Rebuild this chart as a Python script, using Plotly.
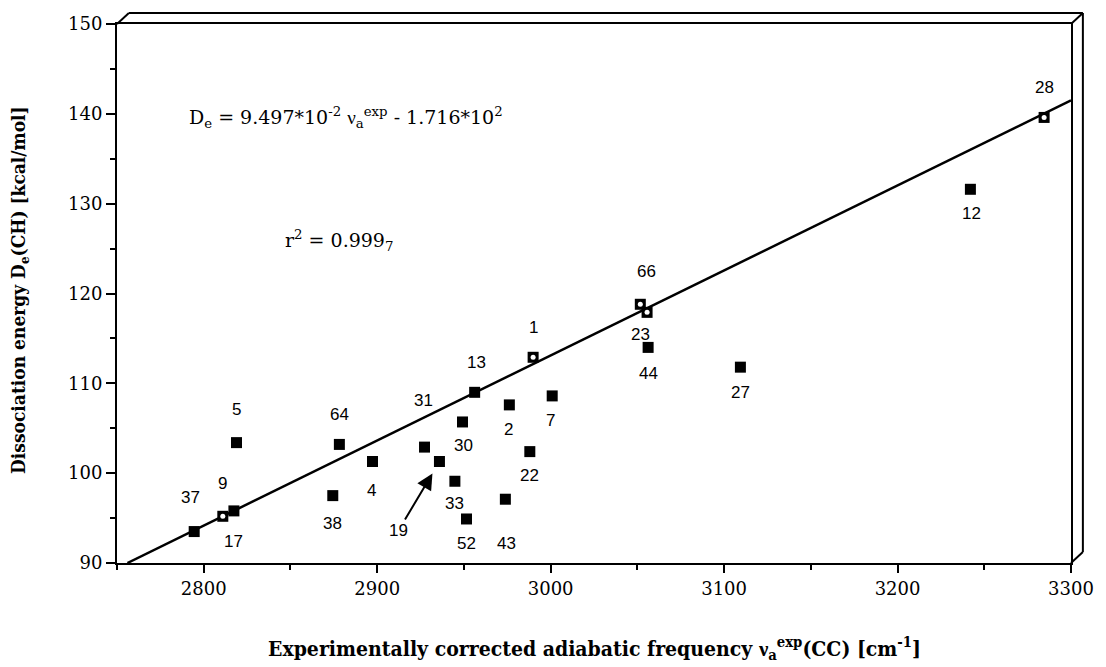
import plotly.graph_objects as go

# ---------------- data ----------------
labels = ["37", "9", "17", "5", "64", "38", "4", "31", "19", "30", "33", "52",
          "13", "2", "1", "7", "22", "43", "66", "23", "44", "27", "12", "28"]
freq = [2794.5, 2811.0, 2817.4, 2818.9, 2878.2, 2874.4, 2897.3, 2927.3, 2935.9,
        2949.2, 2944.8, 2951.5, 2956.2, 2976.2, 2989.9, 3000.9, 2988.0, 2973.9,
        3051.7, 3055.6, 3056.2, 3109.4, 3242.0, 3284.5]
energy = [93.5, 95.2, 95.8, 103.4, 103.2, 97.5, 101.3, 102.9, 101.3, 105.7,
          99.1, 94.9, 109.0, 107.6, 112.9, 108.6, 102.4, 97.1, 118.8, 117.9,
          114.0, 111.8, 131.6, 139.6]
open_labels = ["9", "1", "66", "23", "28"]

fit_x = [2756, 3300]
fit_y = [90.0, 141.5]

x_ticks = [2800, 2900, 3000, 3100, 3200, 3300]
y_ticks = [90, 100, 110, 120, 130, 140, 150]

# ---------------- style / layout ----------------
W, H = 1106, 667
ML, MR, MT, MB = 117, 25, 24, 104
PW, PH = W - ML - MR, H - MT - MB

# label offsets in px (dx right, dy down)
label_offsets = {
    "37": (-4, -34), "9": (0, -33), "17": (0, 31), "5": (0, -33), "64": (0, -30),
    "38": (0, 28), "4": (-1, 29), "31": (-1, -47), "30": (1, 24), "33": (0, 22),
    "52": (0, 25), "13": (2, -30), "2": (-1, 25), "1": (0, -30), "7": (-2, 25),
    "22": (0, 24), "43": (1, 44), "66": (6, -33), "23": (-7, 22), "44": (0, 26),
    "27": (0, 25), "12": (1, 24), "28": (0, -30),
}

SERIF = "DejaVu Serif"
SERIF_C = "DejaVu Serif Condensed, DejaVu Serif"
SANS = "Liberation Sans, Arial, sans-serif"
NU = '<span style="font-family:Liberation Serif">ν</span>'

fig = go.Figure()

fig.add_trace(go.Scatter(x=fit_x, y=fit_y, mode="lines",
                         line=dict(color="black", width=2.5),
                         hoverinfo="skip", showlegend=False))

fig.add_trace(go.Scatter(x=freq, y=energy, mode="markers",
                         marker=dict(symbol="square", size=11, color="black",
                                     line=dict(width=0)),
                         showlegend=False))

ox = [f for f, l in zip(freq, labels) if l in open_labels]
oy = [e for e, l in zip(energy, labels) if l in open_labels]
fig.add_trace(go.Scatter(x=ox, y=oy, mode="markers",
                         marker=dict(symbol="circle", size=5, color="white",
                                     line=dict(width=0)),
                         showlegend=False))

annotations = []
for f, e, l in zip(freq, energy, labels):
    if l == "19":
        annotations.append(dict(
            x=f, y=e, xref="x", yref="y", text=l, showarrow=True,
            arrowhead=2, arrowsize=1.6, arrowwidth=2, arrowcolor="black",
            xshift=-7, yshift=-12, ax=-34, ay=57, standoff=0,
            font=dict(family=SANS, size=17, color="black")))
        continue
    dx, dy = label_offsets[l]
    annotations.append(dict(
        x=f, y=e, xref="x", yref="y", text=l, showarrow=False,
        xshift=dx, yshift=-dy, xanchor="center", yanchor="middle",
        font=dict(family=SANS, size=17, color="black")))

annotations.append(dict(
    xref="paper", yref="paper", x=(188 - ML) / PW, y=(H - MB - 117) / PH,
    xanchor="left", yanchor="middle", showarrow=False,
    text="D<sub>e</sub> = 9.497*10<sup>-2</sup> " + NU +
         "<sub>a</sub><sup>exp</sup> - 1.716*10<sup>2</sup>",
    font=dict(family=SERIF, size=19, color="black")))

annotations.append(dict(
    xref="paper", yref="paper", x=(285 - ML) / PW, y=(H - MB - 240) / PH,
    xanchor="left", yanchor="middle", showarrow=False,
    text="r<sup>2</sup> = 0.999<sub>7</sub>",
    font=dict(family=SERIF, size=19, color="black")))

annotations.append(dict(
    xref="paper", yref="paper", x=(600 - ML) / PW, y=(H - MB - 648) / PH,
    xanchor="center", yanchor="middle", showarrow=False,
    text="<b>Experimentally corrected adiabatic frequency " + NU +
         "<sub>a</sub><sup>exp</sup>(CC) [cm<sup>-1</sup>]</b>",
    font=dict(family=SERIF_C, size=21, color="black")))

annotations.append(dict(
    xref="paper", yref="paper", x=(18 - ML) / PW, y=(H - MB - 290) / PH,
    xanchor="center", yanchor="middle", showarrow=False, textangle=-90,
    text="<b>Dissociation energy D<sub>e</sub>(CH) [kcal/mol]</b>",
    font=dict(family=SERIF_C, size=19, color="black")))

# 3-D box edges
dxp, dyp = 12 / PW, 11 / PH
box = [
    (0, 1, dxp, 1 + dyp),
    (dxp, 1 + dyp, 1 + dxp, 1 + dyp),
    (1, 1, 1 + dxp, 1 + dyp),
    (1 + dxp, 1 + dyp, 1 + dxp, dyp),
    (1, 0, 1 + dxp, dyp),
]
shapes = [dict(type="line", xref="paper", yref="paper", x0=a, y0=b, x1=c, y1=d,
               line=dict(color="black", width=2)) for a, b, c, d in box]

axis_common = dict(showline=True, linewidth=2, linecolor="black", mirror=True,
                   showgrid=False, zeroline=False, ticks="outside",
                   tickwidth=2, tickcolor="black",
                   tickfont=dict(family=SERIF, size=18, color="black"))

fig.update_layout(
    width=W, height=H, autosize=False,
    margin=dict(l=ML, r=MR, t=MT, b=MB),
    plot_bgcolor="white", paper_bgcolor="white",
    xaxis=dict(range=[2750, 3300], tickvals=x_ticks, ticklen=8,
               minor=dict(dtick=50, tick0=2750, ticklen=5, tickwidth=1.5,
                          tickcolor="black", ticks="outside"),
               **axis_common),
    yaxis=dict(range=[90, 150], tickvals=y_ticks, ticklen=9,
               minor=dict(dtick=5, tick0=90, ticklen=5, tickwidth=1.5,
                          tickcolor="black", ticks="outside"),
               **axis_common),
    annotations=annotations,
    shapes=shapes,
    showlegend=False,
)

fig.write_html("out.html")
